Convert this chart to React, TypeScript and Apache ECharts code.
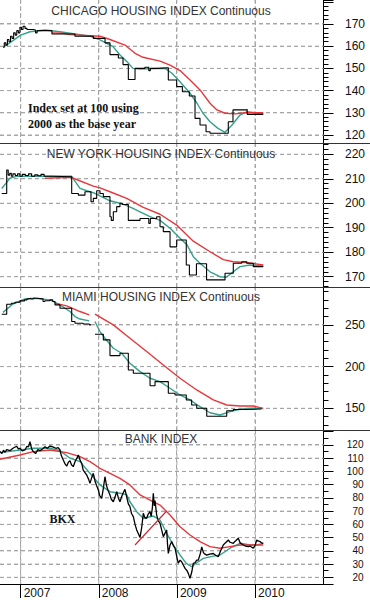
import React, { useEffect, useRef } from 'react';
import * as echarts from 'echarts';

// ---------- data ----------
const YEAR_TICKS = [2007, 2008, 2009, 2010];

const CHI_Y_LABELS = [120, 130, 140, 150, 160, 170];
const NY_Y_LABELS = [170, 180, 190, 200, 210, 220];
const MIA_Y_LABELS = [150, 200, 250];
const BKX_Y_LABELS = [20, 30, 40, 50, 60, 70, 80, 90, 100, 110, 120];

const CHI_PRICE = [
  [2006.773, 159.5], [2006.79, 161.5], [2006.81, 160.5], [2006.83, 163], [2006.85, 162], [2006.87, 164.5],
  [2006.89, 163.5], [2006.91, 166], [2006.93, 165], [2006.95, 167], [2006.97, 166], [2006.99, 168.5],
  [2007.01, 167.5], [2007.03, 169], [2007.055, 168], [2007.08, 167.5], [2007.16, 167.3], [2007.19, 166],
  [2007.21, 167], [2007.40, 165.5], [2007.695, 164.5], [2007.93, 163.5], [2008.08, 161.5], [2008.143, 156.2],
  [2008.25, 154.7], [2008.31, 151.7], [2008.378, 145], [2008.464, 150], [2008.59, 150.5], [2008.64, 149],
  [2008.66, 150], [2008.75, 150.3], [2008.89, 144.8], [2008.997, 141.8], [2009.07, 139.5], [2009.159, 137.6],
  [2009.232, 127.5], [2009.296, 124.5], [2009.373, 121.5], [2009.424, 120.8], [2009.658, 126], [2009.718, 131.3],
  [2009.894, 131.6], [2009.90, 129.3], [2010.106, 129.3],
];
const CHI_MA_SHORT = [
  [2006.799, 160], [2006.9, 162.5], [2007.0, 165], [2007.119, 166.5], [2007.311, 167.3], [2007.503, 166.5],
  [2007.695, 165.5], [2007.887, 164.5], [2008.015, 162.8], [2008.182, 159.8], [2008.271, 156], [2008.361, 153],
  [2008.438, 150], [2008.528, 149.7], [2008.848, 150], [2008.937, 147.8], [2009.04, 144], [2009.168, 138.8],
  [2009.257, 134.3], [2009.334, 129.8], [2009.424, 126], [2009.526, 123], [2009.616, 121.2], [2009.706, 124.5],
  [2009.808, 129], [2009.898, 130.5], [2010.0, 130], [2010.106, 129.5],
];
const CHI_MA_LONG = [
  [2007.401, 166], [2007.542, 165.8], [2007.631, 165.2], [2008.015, 164.5], [2008.143, 163], [2008.335, 160.5],
  [2008.464, 156.8], [2008.566, 155], [2008.784, 153.3], [2008.912, 151.5], [2009.04, 149], [2009.168, 144.8],
  [2009.296, 140.3], [2009.424, 134.3], [2009.513, 131.3], [2009.616, 129.8], [2009.744, 129.5], [2009.872, 130],
  [2010.106, 130],
];

const NY_PRICE = [
  [2006.757, 204], [2006.821, 213.6], [2006.84, 211.5], [2006.86, 212.2], [2006.88, 211], [2006.9, 212],
  [2006.93, 211.3], [2006.96, 212], [2006.99, 211], [2007.02, 211.8], [2007.06, 211.3], [2007.1, 212],
  [2007.14, 211], [2007.18, 211.6], [2007.22, 211.2], [2007.26, 211.8], [2007.3, 211], [2007.4, 210.8],
  [2007.653, 204], [2007.738, 203.3], [2007.823, 204.7], [2007.9, 200.6], [2007.93, 202], [2007.973, 205.1],
  [2008.015, 204], [2008.058, 202.7], [2008.143, 194.5], [2008.16, 193], [2008.186, 196.5], [2008.229, 198.6],
  [2008.271, 200], [2008.3, 199.5], [2008.378, 193], [2008.528, 193.8], [2008.64, 191.8], [2008.66, 193.8],
  [2008.741, 194.5], [2008.784, 190.4], [2008.826, 188.4], [2008.912, 182.2], [2008.997, 185], [2009.12, 174.8],
  [2009.16, 170.7], [2009.25, 175.3], [2009.38, 168.7], [2009.616, 171.4], [2009.722, 175.5], [2009.83, 176.1],
  [2009.894, 175.5], [2009.978, 174.1], [2010.106, 174.1],
];
const NY_MA_SHORT = [
  [2006.757, 206], [2006.821, 208.5], [2006.86, 210.2], [2006.95, 211], [2007.653, 211], [2007.759, 206.1],
  [2007.845, 205.1], [2007.93, 204.3], [2008.015, 203], [2008.143, 201], [2008.271, 200], [2008.335, 199.3],
  [2008.438, 197.9], [2008.528, 196.5], [2008.656, 194.5], [2008.784, 193], [2008.912, 189.8], [2009.04, 185.7],
  [2009.13, 183], [2009.21, 178.2], [2009.296, 175.5], [2009.424, 172], [2009.552, 170], [2009.63, 169.8],
  [2009.722, 172], [2009.808, 174.1], [2009.936, 174.8], [2010.106, 174.4],
];
const NY_MA_LONG = [
  [2007.311, 210.2], [2007.653, 210.6], [2007.673, 210.2], [2007.93, 207], [2008.015, 206.3], [2008.143, 204.7],
  [2008.357, 202], [2008.57, 198.3], [2008.784, 195.5], [2008.997, 191.1], [2009.21, 184.5], [2009.424, 180.2],
  [2009.594, 177], [2009.722, 176.1], [2009.894, 175.8], [2010.106, 174.8],
];

const MIA_PRICE = [
  [2006.757, 262.8], [2006.821, 274.8], [2006.88, 276], [2006.927, 277.2], [2006.991, 278.8], [2007.05, 280],
  [2007.081, 281.2], [2007.1, 282], [2007.13, 281], [2007.16, 282], [2007.209, 281.2], [2007.286, 278],
  [2007.31, 279], [2007.375, 280], [2007.41, 278], [2007.439, 274], [2007.503, 270], [2007.653, 254],
  [2007.695, 252], [2007.8, 251], [2007.878, 250], [2007.9, '-'],
  [2007.951, 238.8], [2008.058, 232], [2008.143, 213.2], [2008.271, 216], [2008.378, 196], [2008.442, 192],
  [2008.656, 177], [2008.72, 182], [2008.89, 168], [2008.976, 166], [2009.12, 160], [2009.189, 154],
  [2009.254, 150], [2009.382, 140.5], [2009.638, 147], [2009.722, 148.5], [2009.894, 149.2], [2010.085, 149.5],
];
const MIA_MA_SHORT = [
  [2006.773, 265], [2006.9, 275], [2007.055, 281], [2007.183, 282], [2007.375, 280], [2007.503, 274],
  [2007.631, 266], [2007.695, 260], [2007.759, 257], [2007.878, 254.8], [2007.9, '-'],
  [2007.951, 254], [2008.015, 242], [2008.079, 234], [2008.186, 222], [2008.293, 216], [2008.399, 204],
  [2008.528, 194], [2008.656, 186], [2008.784, 182], [2008.912, 174], [2009.04, 166], [2009.168, 160],
  [2009.296, 152], [2009.424, 144.7], [2009.552, 142], [2009.68, 146], [2009.808, 148.8], [2009.936, 150],
  [2010.085, 150],
];
const MIA_MA_LONG = [
  [2007.439, 276], [2007.589, 272.8], [2007.759, 266], [2007.878, 262], [2007.9, '-'],
  [2007.951, 263], [2008.186, 250], [2008.399, 234], [2008.613, 218], [2008.826, 202], [2009.04, 186],
  [2009.254, 172], [2009.466, 160], [2009.638, 154], [2009.808, 152.8], [2009.978, 152.8], [2010.106, 150],
];

const BKX_PRICE = [
  [2006.735, 115], [2006.76, 113.5], [2006.78, 116], [2006.8, 114.5], [2006.82, 116.5], [2006.863, 115.7],
  [2006.9, 117.5], [2006.949, 119], [2006.97, 117], [2006.991, 117.5], [2007.02, 115.5], [2007.055, 116.2],
  [2007.08, 119], [2007.1, 118.5], [2007.119, 122.5], [2007.14, 117], [2007.161, 115], [2007.19, 113.5],
  [2007.22, 116.5], [2007.247, 115.7], [2007.28, 117], [2007.311, 118.7], [2007.34, 117.5], [2007.375, 119.2],
  [2007.41, 118.5], [2007.45, 117.5], [2007.48, 118], [2007.503, 116.2], [2007.52, 112], [2007.545, 108.7],
  [2007.57, 105.5], [2007.589, 104], [2007.61, 107], [2007.631, 108], [2007.65, 105], [2007.673, 103.6],
  [2007.7, 108], [2007.72, 110], [2007.738, 112.4], [2007.76, 108.5], [2007.781, 106.2], [2007.8, 101],
  [2007.83, 98.5], [2007.845, 97.3], [2007.87, 94], [2007.887, 91], [2007.91, 95.5], [2007.93, 98.6],
  [2007.95, 93], [2007.97, 89.5], [2007.994, 86], [2008.01, 82], [2008.037, 79.7], [2008.06, 88],
  [2008.079, 96], [2008.1, 89], [2008.12, 85.5], [2008.143, 82.2], [2008.16, 79], [2008.186, 77.1],
  [2008.21, 81], [2008.229, 84.7], [2008.25, 80], [2008.271, 77.1], [2008.29, 80.5], [2008.31, 83.5],
  [2008.335, 86.5], [2008.36, 80], [2008.378, 75.5], [2008.399, 73.4], [2008.42, 68], [2008.442, 65.8],
  [2008.464, 60], [2008.485, 55.8], [2008.51, 52.5], [2008.528, 50.2], [2008.55, 58], [2008.57, 68.4],
  [2008.59, 65], [2008.613, 64.6], [2008.63, 67.5], [2008.656, 69.6], [2008.67, 66], [2008.685, 72],
  [2008.698, 83.5], [2008.71, 74], [2008.72, 78], [2008.741, 67], [2008.76, 63], [2008.784, 60.8],
  [2008.8, 57], [2008.826, 50.7], [2008.845, 53], [2008.869, 55.8], [2008.88, 45], [2008.89, 38.1],
  [2008.91, 44], [2008.933, 47], [2008.954, 44], [2008.976, 42], [2008.997, 36], [2009.018, 30.6],
  [2009.04, 33], [2009.061, 31.8], [2009.08, 29.5], [2009.104, 26.8], [2009.13, 25], [2009.146, 23],
  [2009.168, 19.2], [2009.19, 24], [2009.21, 30.6], [2009.23, 31], [2009.254, 33], [2009.274, 33],
  [2009.3, 38], [2009.318, 43], [2009.34, 38.5], [2009.36, 37.5], [2009.382, 36.8], [2009.42, 37.5],
  [2009.466, 38], [2009.5, 36.5], [2009.53, 35.6], [2009.56, 40], [2009.594, 44.4], [2009.62, 46],
  [2009.658, 48.2], [2009.68, 46.5], [2009.722, 45.7], [2009.75, 47.5], [2009.786, 49.5], [2009.81, 46],
  [2009.85, 44.4], [2009.88, 43.5], [2009.914, 43.2], [2009.94, 43.5], [2009.978, 42], [2010.0, 44],
  [2010.022, 48.2], [2010.04, 47.5], [2010.064, 47], [2010.085, 46], [2010.106, 45.7],
];
const BKX_MA_SHORT = [
  [2006.735, 114.2], [2006.991, 116.2], [2007.161, 117.5], [2007.375, 117.5], [2007.503, 115.7], [2007.631, 110],
  [2007.759, 107.4], [2007.887, 98.6], [2008.015, 89.8], [2008.143, 84.7], [2008.271, 83.5], [2008.357, 82.5],
  [2008.399, 77.1], [2008.485, 69.6], [2008.57, 64.6], [2008.698, 66.3], [2008.784, 63.3], [2008.869, 53.3],
  [2008.954, 44.4], [2009.04, 36.9], [2009.12, 30.6], [2009.189, 28], [2009.254, 31], [2009.338, 34.3],
  [2009.466, 36], [2009.552, 36.9], [2009.68, 42], [2009.808, 45.7], [2009.936, 44.4], [2010.022, 44.4],
  [2010.106, 45.7],
];
const BKX_MA_LONG = [
  [2006.735, 109.2], [2006.991, 112.4], [2007.161, 115], [2007.375, 116.2], [2007.589, 114.2], [2007.759, 111.2],
  [2007.887, 107.4], [2008.015, 102.4], [2008.143, 98.6], [2008.271, 94.8], [2008.399, 89.8], [2008.528, 82.2],
  [2008.656, 78.4], [2008.784, 74.6], [2008.912, 67.1], [2009.04, 58.2], [2009.168, 52], [2009.296, 47],
  [2009.424, 43.2], [2009.552, 42], [2009.68, 43.2], [2009.808, 44.4], [2009.936, 44.4], [2010.106, 44.4],
];
const BKX_TREND = [[2008.464, 44.4], [2008.869, 70.1]];

// ---------- chart ----------
const FONT = '"Liberation Sans", Arial, sans-serif';
const SERIF = '"Liberation Serif", "Times New Roman", serif';
const BLACK = '#000000';
const TEAL = '#35a08c';
const RED = '#e8363a';
const GRID_GRAY = '#a6a6a6';

const TOPS = [0, 143, 287, 430];
const HEIGHTS = [143, 144, 143, 154];
const RIGHT = 46.5;
const X_MIN = 2006.735;
const X_MAX = 2010.877;

const PANELS = [
  { title: 'CHICAGO HOUSING INDEX Continuous', min: 116.4, max: 180.8, step: 10, labels: CHI_Y_LABELS, minor: 5, fs: 12, price: CHI_PRICE, fast: CHI_MA_SHORT, slow: CHI_MA_LONG, stepped: true, titleY: 11 },
  { title: 'NEW YORK HOUSING INDEX Continuous', min: 165.8, max: 224.6, step: 10, labels: NY_Y_LABELS, minor: 5, fs: 12, price: NY_PRICE, fast: NY_MA_SHORT, slow: NY_MA_LONG, stepped: true, titleY: 154 },
  { title: 'MIAMI HOUSING INDEX Continuous', min: 124, max: 295.4, step: 50, labels: MIA_Y_LABELS, minor: 5, fs: 12, price: MIA_PRICE, fast: MIA_MA_SHORT, slow: MIA_MA_LONG, stepped: true, titleY: 296.5 },
  { title: 'BANK INDEX', min: 14.96, max: 131.3, step: 10, labels: BKX_Y_LABELS, minor: 2, fs: 10, price: BKX_PRICE, fast: BKX_MA_SHORT, slow: BKX_MA_LONG, stepped: false, titleY: 439 },
];

function gridStyle() {
  return { color: GRID_GRAY, width: 1, type: [4, 3] };
}

function baseGraphic() {
  const graphic: any[] = [];
  [143, 287, 430].forEach((y) => {
    graphic.push({ type: 'line', shape: { x1: 0, y1: y + 0.5, x2: 370, y2: y + 0.5 }, style: { stroke: '#333', lineWidth: 1 }, z: 100 });
  });
  PANELS.forEach((p) => {
    graphic.push({
      type: 'text', x: 161, y: p.titleY, z: 100,
      style: { text: p.title, font: `12px ${FONT}`, fill: '#333', align: 'center', verticalAlign: 'middle' },
    });
  });
  graphic.push({
    type: 'text', x: 28, y: 108, z: 100,
    style: { text: 'Index set at 100 using', font: `bold 12px ${SERIF}`, fill: '#111', align: 'left', verticalAlign: 'middle' },
  });
  graphic.push({
    type: 'text', x: 28, y: 123.5, z: 100,
    style: { text: '2000 as the base year', font: `bold 12px ${SERIF}`, fill: '#111', align: 'left', verticalAlign: 'middle' },
  });
  graphic.push({
    type: 'text', x: 49.5, y: 519, z: 100,
    style: { text: 'BKX', font: `bold 12px ${SERIF}`, fill: '#111', align: 'left', verticalAlign: 'middle' },
  });
  return graphic;
}

function buildOption() {
  const grid = PANELS.map((_, i) => ({ left: 0, right: RIGHT, top: TOPS[i], height: HEIGHTS[i] }));
  const xAxis = PANELS.map((_, i) => {
    const bottom = i === PANELS.length - 1;
    return {
      type: 'value',
      gridIndex: i,
      min: X_MIN,
      max: X_MAX,
      axisLine: { show: bottom, onZero: false, lineStyle: { color: BLACK, width: 1 } },
      axisTick: { show: bottom, customValues: YEAR_TICKS, length: 14, lineStyle: { color: BLACK } },
      axisLabel: {
        show: bottom,
        customValues: YEAR_TICKS,
        formatter: (v: number) => String(Math.round(v)),
        align: 'left',
        padding: [0, 0, 0, 3],
        margin: 3,
        fontFamily: FONT,
        fontSize: 12,
        color: '#111',
      },
      splitLine: { show: false },
    };
  });
  const yAxis = PANELS.map((p, i) => ({
    type: 'value',
    gridIndex: i,
    position: 'right',
    min: p.min,
    max: p.max,
    minInterval: p.step,
    maxInterval: p.step,
    splitNumber: Math.round((p.max - p.min) / p.step),
    axisLine: { show: true, lineStyle: { color: BLACK, width: 1 } },
    axisTick: { show: true, length: 10, lineStyle: { color: BLACK } },
    minorTick: { show: true, splitNumber: p.minor, length: 5, lineStyle: { color: BLACK } },
    axisLabel: {
      show: true,
      align: 'right',
      margin: p.fs === 12 ? 41.5 : 40,
      fontFamily: FONT,
      fontSize: p.fs,
      color: '#111',
      formatter: (v: number) => {
        const r = Math.round(v);
        return Math.abs(v - r) < 1e-6 && p.labels.indexOf(r) >= 0 ? String(r) : '';
      },
    },
    splitLine: { show: false },
  }));

  const series: any[] = [];
  PANELS.forEach((p, i) => {
    p.labels.forEach((v) => {
      series.push({
        type: 'line', xAxisIndex: i, yAxisIndex: i, symbol: 'none',
        data: [[X_MIN, v], [X_MAX, v]], lineStyle: gridStyle(),
      });
    });
    YEAR_TICKS.forEach((yr) => {
      series.push({
        type: 'line', xAxisIndex: i, yAxisIndex: i, symbol: 'none',
        data: [[yr, p.min], [yr, p.max]], lineStyle: gridStyle(),
      });
    });
  });
  PANELS.forEach((p, i) => {
    series.push({
      type: 'line', xAxisIndex: i, yAxisIndex: i, data: p.fast, symbol: 'none',
      lineStyle: { color: TEAL, width: 1.4 }, z: 3,
    });
    series.push({
      type: 'line', xAxisIndex: i, yAxisIndex: i, data: p.slow, symbol: 'none',
      lineStyle: { color: RED, width: 1.4 }, z: 4,
    });
    series.push({
      type: 'line', xAxisIndex: i, yAxisIndex: i, data: p.price, symbol: 'none',
      step: p.stepped ? 'end' : false,
      lineStyle: { color: BLACK, width: p.stepped ? 1.1 : 1.3 }, z: 5,
    });
  });
  series.push({
    type: 'line', xAxisIndex: 3, yAxisIndex: 3, data: BKX_TREND, symbol: 'none',
    lineStyle: { color: '#c0303a', width: 1.2 }, z: 6,
  });

  return {
    animation: false,
    backgroundColor: '#ffffff',
    grid,
    xAxis,
    yAxis,
    series,
    graphic: baseGraphic(),
  };
}

// grid lines placed through the axes' own scales (convertToPixel)
function gridGraphic(chart: any) {
  const out: any[] = [];
  const crisp = (v: number) => Math.round(v - 0.5) + 0.5;
  PANELS.forEach((p, i) => {
    const x0 = chart.convertToPixel({ xAxisIndex: i }, X_MIN);
    const x1 = chart.convertToPixel({ xAxisIndex: i }, X_MAX);
    const yTop = chart.convertToPixel({ yAxisIndex: i }, p.max);
    const yBot = chart.convertToPixel({ yAxisIndex: i }, p.min);
    p.labels.forEach((v) => {
      const y = crisp(chart.convertToPixel({ yAxisIndex: i }, v));
      out.push({
        type: 'line', silent: true, z: 1,
        shape: { x1: x0, y1: y, x2: x1, y2: y },
        style: { stroke: GRID_GRAY, lineWidth: 1, lineDash: [4, 3] },
      });
    });
    YEAR_TICKS.forEach((yr) => {
      const x = crisp(chart.convertToPixel({ xAxisIndex: i }, yr));
      out.push({
        type: 'line', silent: true, z: 1,
        shape: { x1: x, y1: yTop, x2: x, y2: yBot },
        style: { stroke: GRID_GRAY, lineWidth: 1, lineDash: [4, 3] },
      });
    });
  });
  return out;
}

export default function App() {
  const ref = useRef<HTMLDivElement>(null);
  useEffect(() => {
    if (!ref.current) return;
    const chart = echarts.init(ref.current, null, { renderer: 'svg' });
    chart.setOption(buildOption() as any);
    try {
      const extra = gridGraphic(chart);
      chart.setOption({ graphic: [...baseGraphic(), ...extra] } as any);
    } catch (e) {
      // keep the chart even if the extra grid lines cannot be placed
    }
    return () => chart.dispose();
  }, []);
  return (
    <div
      ref={ref}
      style={{ position: 'fixed', left: 0, top: 0, width: 370, height: 600, background: '#fff' }}
    />
  );
}
